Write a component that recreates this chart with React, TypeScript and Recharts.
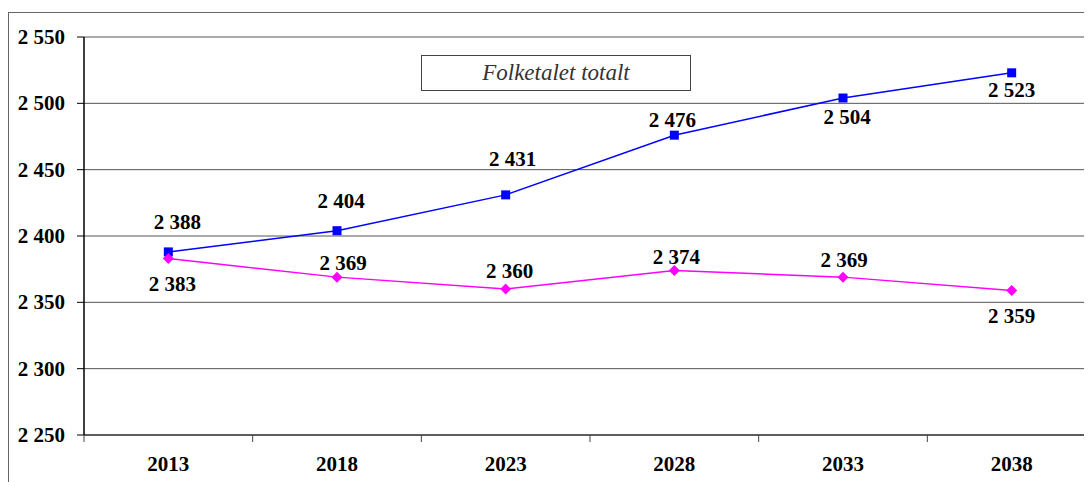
import React from "react";
import { LineChart, Line, XAxis, YAxis, CartesianGrid } from "recharts";

const years = ["2013", "2018", "2023", "2028", "2033", "2038"];
const seriesBlue = [2388, 2404, 2431, 2476, 2504, 2523];
const seriesMagenta = [2383, 2369, 2360, 2374, 2369, 2359];
const yTicks = [2250, 2300, 2350, 2400, 2450, 2500, 2550];
const title = "Folketalet totalt";

// label placement (style only): offsets from the point
const blueLabelDx = [9, 4, 7, -2, 4, 0];
const blueLabelDy = [-30, -30, -36, -15, 19, 17];
const magentaLabelDx = [4, 6, 4, 2, 1, 0];
const magentaLabelDy = [25, -14, -18, -13, -17, 26];

const data = years.map((y, i) => ({ year: y, blue: seriesBlue[i], magenta: seriesMagenta[i] }));

const FONT = "'Liberation Serif', Tinos, 'Times New Roman', Times, 'DejaVu Serif', serif";

const fmt = (v: number) => {
  const s = String(v);
  return s.length > 3 ? s.slice(0, s.length - 3) + " " + s.slice(s.length - 3) : s;
};

const makeLabel = (dxs: number[], dys: number[]) => (props: any) => {
  const { x, y, value, index } = props;
  return (
    <text
      x={x + dxs[index]}
      y={y + dys[index]}
      textAnchor="middle"
      dominantBaseline="central"
      style={{ fontFamily: FONT, fontWeight: "bold", fontSize: 21 }}
      fill="#000"
    >
      {fmt(value)}
    </text>
  );
};

const SquareDot = (props: any) => {
  const { cx, cy } = props;
  if (cx == null || cy == null) return null;
  return <rect x={cx - 4.5} y={cy - 4.5} width={9} height={9} fill="#0000FF" />;
};

const DiamondDot = (props: any) => {
  const { cx, cy } = props;
  if (cx == null || cy == null) return null;
  return <polygon points={`${cx},${cy - 5.5} ${cx + 5.5},${cy} ${cx},${cy + 5.5} ${cx - 5.5},${cy}`} fill="#FF00FF" />;
};

const XTick = (props: any) => {
  const { x, y, payload } = props;
  const half = payload && payload.offset ? payload.offset : 84;
  return (
    <g>
      <line x1={x - half} y1={y} x2={x - half} y2={y + 7} stroke="#444" strokeWidth={1} />
      <text
        x={x}
        y={y + 29}
        textAnchor="middle"
        dominantBaseline="central"
        style={{ fontFamily: FONT, fontWeight: "bold", fontSize: 21 }}
        fill="#000"
      >
        {payload.value}
      </text>
    </g>
  );
};

const YTick = (props: any) => {
  const { x, y, payload } = props;
  return (
    <text
      x={x}
      y={y}
      textAnchor="end"
      dominantBaseline="central"
      style={{ fontFamily: FONT, fontWeight: "bold", fontSize: 21 }}
      fill="#000"
    >
      {fmt(payload.value)}
    </text>
  );
};

export default function App() {
  return (
    <div style={{ paddingTop: 4, width: 1084, height: 470, overflow: "hidden" }}>
      <div
        style={{
          position: "relative",
          width: 1100,
          height: 470,
          borderLeft: "1px solid #666",
          borderTop: "1px solid #666",
          background: "#fff",
        }}
      >
        <LineChart
          width={1100}
          height={466}
          data={data}
          margin={{ top: 24, right: 13, left: 0, bottom: 4 }}
        >
          <CartesianGrid horizontal={true} vertical={false} stroke="#555" strokeWidth={1} />
          <XAxis
            dataKey="year"
            scale="band"
            axisLine={{ stroke: "#444", strokeWidth: 1.5 }}
            tickLine={false}
            tickSize={0}
            tickMargin={0}
            height={40}
            tick={<XTick />}
            interval={0}
          />
          <YAxis
            domain={[2250, 2550]}
            ticks={yTicks}
            width={75}
            axisLine={{ stroke: "#000", strokeWidth: 1.5 }}
            tickLine={{ stroke: "#000" }}
            tickSize={7}
            tickMargin={12}
            tick={<YTick />}
            allowDataOverflow={true}
          />
          <Line
            dataKey="blue"
            stroke="#0000FF"
            strokeWidth={1.5}
            dot={<SquareDot />}
            isAnimationActive={false}
            label={makeLabel(blueLabelDx, blueLabelDy)}
          />
          <Line
            dataKey="magenta"
            stroke="#FF00FF"
            strokeWidth={1.5}
            dot={<DiamondDot />}
            isAnimationActive={false}
            label={makeLabel(magentaLabelDx, magentaLabelDy)}
          />
        </LineChart>
        <div
          style={{
            position: "absolute",
            left: 412,
            top: 42,
            width: 268,
            height: 34,
            border: "1px solid #444",
            background: "#fff",
            display: "flex",
            alignItems: "center",
            justifyContent: "center",
            fontFamily: FONT,
            fontStyle: "italic",
            fontSize: 23,
            color: "#333",
          }}
        >
          {title}
        </div>
      </div>
    </div>
  );
}
